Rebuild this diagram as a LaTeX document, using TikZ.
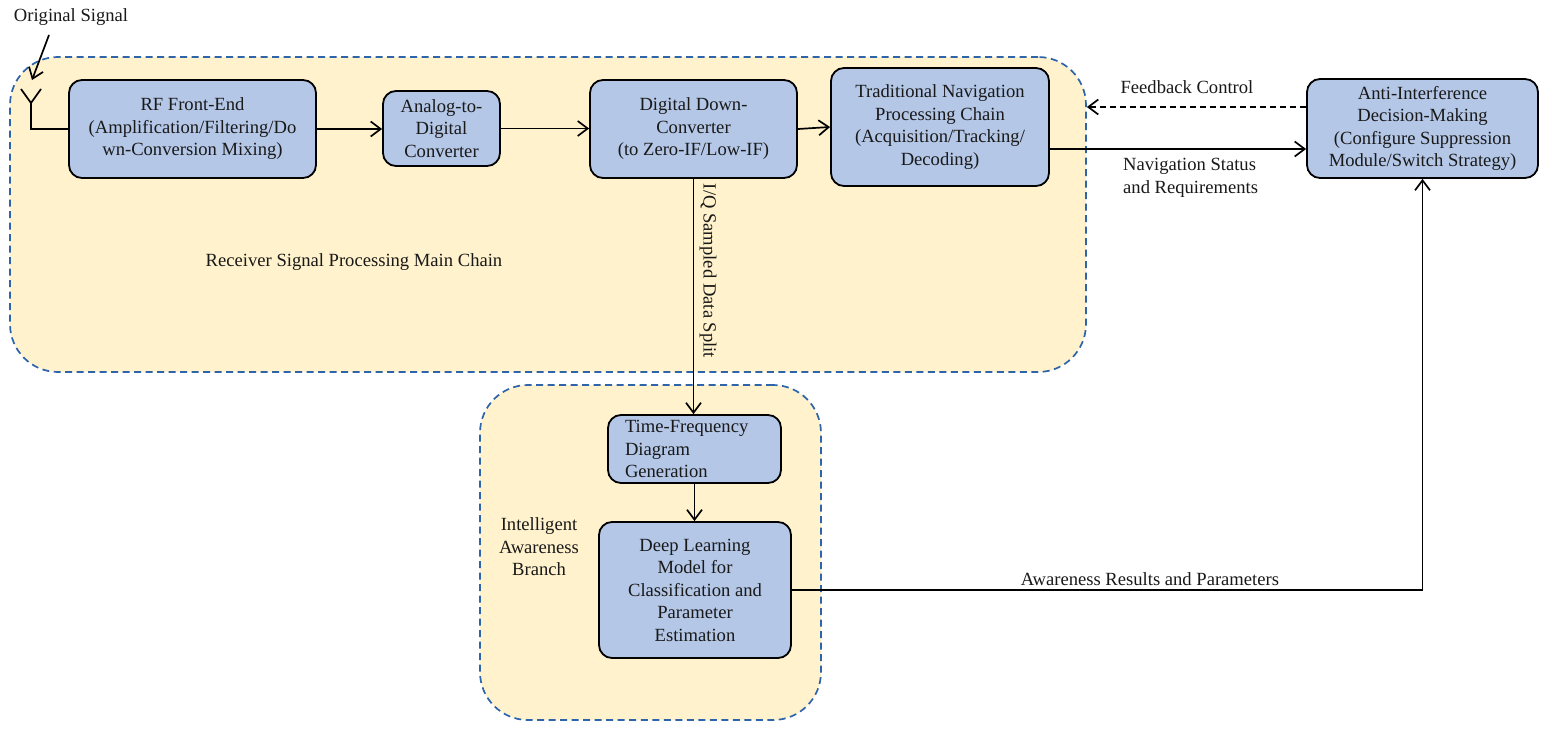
\documentclass[tikz,border=0pt]{standalone}
\usepackage{fontspec}
\setmainfont{Liberation Serif}
\usetikzlibrary{arrows.meta,calc}
\definecolor{boxfill}{HTML}{B4C7E7}
\definecolor{bgfill}{HTML}{FFF2CC}
\definecolor{bgline}{HTML}{2E64AA}
\begin{document}
\begin{tikzpicture}[x=1pt,y=-1pt,
  every node/.style={font=\fontsize{18.6}{22.5}\selectfont, text=black!90},
  bgbox/.style={draw=bgline, fill=bgfill, line width=1.7pt, dash pattern=on 7pt off 4.5pt, rounded corners=48pt, inner sep=0pt},
  procbox/.style={draw=black, fill=boxfill, line width=1.8pt, rounded corners=13pt, align=center, inner sep=2pt},
  conn/.style={line width=1.7pt, -{Straight Barb[length=10pt,width=15pt,line width=1.7pt]}},
  plain/.style={line width=1.7pt},
  fb/.style={conn, dash pattern=on 6pt off 4pt},
  lbl/.style={align=center, inner sep=0pt}
]
\useasboundingbox (0,0) rectangle (1548,730);
\fill[white] (0,0) rectangle (1548,730);

% backgrounds
\node[bgbox, minimum width=1076pt, minimum height=315pt] (mainbg) at (548,214.5) {};
\node[bgbox, minimum width=341pt, minimum height=335pt] (intbg) at (650.5,552.5) {};

% process boxes
\node[procbox, minimum width=247pt, minimum height=98pt] (rf) at (192.5,129) {RF Front-End\\(Amplification/Filtering/Do\\wn-Conversion Mixing)};
\node[procbox, minimum width=117pt, minimum height=75pt] (adc) at (441.5,128.5) {Analog-to-\\Digital\\Converter};
\node[procbox, minimum width=207pt, minimum height=98pt] (ddc) at (693.5,129) {Digital Down-\\Converter\\(to Zero-IF/Low-IF)};
\node[procbox, minimum width=218pt, minimum height=118pt] (nav) at (940,127) {Traditional Navigation\\Processing Chain\\(Acquisition/Tracking/\\Decoding)};
\node[procbox, minimum width=231pt, minimum height=99pt] (anti) at (1422.5,128.5) {Anti-Interference\\Decision-Making\\(Configure Suppression\\Module/Switch Strategy)};
\node[procbox, align=left, minimum width=173pt, text width=139pt, inner xsep=17pt, inner ysep=0pt, minimum height=68pt] (tf) at (694.5,449) {Time-Frequency\\Diagram\\Generation};
\node[procbox, minimum width=192pt, minimum height=136pt] (dl) at (695,590) {Deep Learning\\Model for\\Classification and\\Parameter\\Estimation};

% group labels
\node[lbl] (mainlbl) at (354,262) {Receiver Signal Processing Main Chain};
\node[lbl] (intlbl) at (539,547) {Intelligent\\Awareness\\Branch};

% antenna and original signal
\coordinate (antbase) at (31,129);
\coordinate (anttop) at (31,89);
\coordinate (antl) at (21,89);
\coordinate (antr) at (41,89);
\coordinate (antv) at (31,103);
\coordinate (sigstart) at (49,35);
\coordinate (sigend) at (32,80);
\node[lbl] (origlbl) at (71,17) {Original Signal};
\draw[plain] (rf.west) -- (antbase) -- (antv);
\draw[plain] (antl) -- (antv) -- (antr);
\draw[conn] (sigstart) -- (sigend);

% main chain connectors
\draw[conn] (rf.east) -- (adc.west |- rf.east);
\draw[conn] (adc.east) -- (ddc.west |- adc.east);
\draw[conn] (ddc.east) -- (nav.west);
\draw[conn] (ddc.south) -- (ddc.south |- tf.north);
\node[lbl, rotate=-90] (iqlbl) at (708,271) {I/Q Sampled Data Split};
\draw[conn] (tf.south) -- (tf.south |- dl.north);

% navigation status
\coordinate (navout) at ([yshift=-22pt]nav.east);
\draw[conn] (navout) -- (navout -| anti.west);
\node[lbl, align=left, anchor=west] (navlbl) at (1123,178) {Navigation Status\\and Requirements};

% feedback
\coordinate (fbstart) at ([yshift=21.5pt]anti.west);
\draw[fb] (fbstart) -- (fbstart -| mainbg.east);
\node[lbl] (fblbl) at (1187,87) {Feedback Control};

% awareness results
\draw[conn] (dl.east) -| (anti.south);
\node[lbl] (awlbl) at (1150,579) {Awareness Results and Parameters};
\end{tikzpicture}
\end{document}
